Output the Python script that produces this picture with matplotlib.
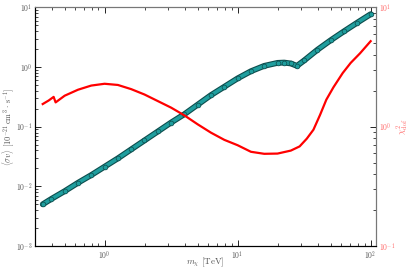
import numpy as np
import matplotlib
matplotlib.use("Agg")
import matplotlib.pyplot as plt
from matplotlib.ticker import LogLocator, FuncFormatter, NullFormatter

plt.rcParams['mathtext.fontset'] = 'cm'
plt.rcParams['font.family'] = 'DejaVu Serif'

# log10 of mass [TeV] and cross section for the fitted curve
sv_logm = [-0.465, -0.40, -0.30, -0.20, -0.10, 0.00, 0.10, 0.20, 0.30, 0.40,
           0.50, 0.60, 0.70, 0.80, 0.90, 1.00, 1.10, 1.20, 1.30, 1.35,
           1.40, 1.446, 1.50, 1.60, 1.70, 1.80, 1.90, 2.00]
sv_logv = [-2.30, -2.21, -2.08, -1.94, -1.81, -1.67, -1.53, -1.38, -1.23, -1.08,
           -0.93, -0.79, -0.63, -0.47, -0.33, -0.19, -0.07, 0.02, 0.07, 0.075,
           0.06, 0.02, 0.11, 0.29, 0.45, 0.60, 0.745, 0.886]

# log10 of mass and reduced chi^2
chi_logm = [-0.465, -0.42, -0.383, -0.368, -0.30, -0.20, -0.10, 0.00, 0.10, 0.20,
            0.30, 0.40, 0.50, 0.60, 0.70, 0.80, 0.90, 1.00, 1.10, 1.20,
            1.30, 1.40, 1.466, 1.52, 1.57, 1.62, 1.667, 1.72, 1.79, 1.85,
            1.92, 2.00]
chi_logv = [0.19, 0.22, 0.25, 0.204, 0.26, 0.31, 0.345, 0.36, 0.35, 0.315,
            0.27, 0.215, 0.16, 0.095, 0.02, -0.05, -0.11, -0.155, -0.21, -0.227,
            -0.225, -0.20, -0.165, -0.10, -0.025, 0.10, 0.227, 0.33, 0.45, 0.535,
            0.615, 0.717]

sv_m = 10 ** np.array(sv_logm)
sv = 10 ** np.array(sv_logv)
chi_m = 10 ** np.array(chi_logm)
chi = 10 ** np.array(chi_logv)

fig = plt.figure(figsize=(4.12, 2.74), dpi=100)
ax = fig.add_axes([0.085, 0.102, 0.828, 0.871])
ax2 = ax.twinx()

ax.plot(sv_m, sv, '-', color='#0d4d4d', lw=4.2, solid_capstyle='round', zorder=2)
ax.plot(sv_m, sv, '-', color='#1f9e9e', lw=2.6, zorder=3)
ax.plot(sv_m, sv, 'o', ms=3.4, mfc='#1f9e9e', mec='#0d4d4d', mew=0.5, zorder=4)

ax2.plot(chi_m, chi, '-', color='red', lw=1.6)

def fmt(v, pos):
    return r'$10^{%d}$' % int(round(np.log10(v)))

ax.set_xscale('log')
ax.set_yscale('log')
ax2.set_yscale('log')
ax.set_xlim(0.3, 110)
ax.set_ylim(1e-3, 1e1)
ax2.set_ylim(1e-1, 1e1)

for a in (ax, ax2):
    a.xaxis.set_major_formatter(FuncFormatter(fmt))
    a.yaxis.set_major_formatter(FuncFormatter(fmt))
    a.yaxis.set_minor_formatter(NullFormatter())
    a.yaxis.set_major_locator(LogLocator(base=10))
    a.yaxis.set_minor_locator(LogLocator(base=10, subs=np.arange(2, 10)))

ax.tick_params(which='both', direction='in', top=True, labelsize=5.5,
               labelcolor='#555555', pad=2)
ax.tick_params(which='major', length=4, width=0.6)
ax.tick_params(which='minor', length=2, width=0.5)
ax2.tick_params(which='both', direction='in', labelsize=5.5,
                labelcolor='#ff6666', pad=2)
ax2.tick_params(which='major', length=4, width=0.6)
ax2.tick_params(which='minor', length=2, width=0.5)

ax.set_xlabel(r'$m_\chi\ [\mathrm{TeV}]$', fontsize=6.5, color='#555555',
              va='center', ha='center')
ax.set_ylabel(r'$\langle\sigma v\rangle\ [10^{-21}\,\mathrm{cm}^3\cdot\,\mathrm{s}^{-1}]$',
              fontsize=6, color='#555555', va='center', ha='center', rotation=90)
ax2.set_ylabel(r'$\chi^2_{\rm dof}$', fontsize=6.5, color='#ff6666',
               va='center', ha='center', rotation=90)
ax.xaxis.set_label_coords(0.5, -0.067)
ax.yaxis.set_label_coords(-0.077, 0.5)
ax2.yaxis.set_label_coords(1.076, 0.5)

for a in (ax, ax2):
    a.spines['top'].set_color('#777777')
    a.spines['right'].set_color('#777777')
    a.spines['left'].set_color('black')
    a.spines['bottom'].set_color('black')

fig.savefig('out.png', dpi=100)
